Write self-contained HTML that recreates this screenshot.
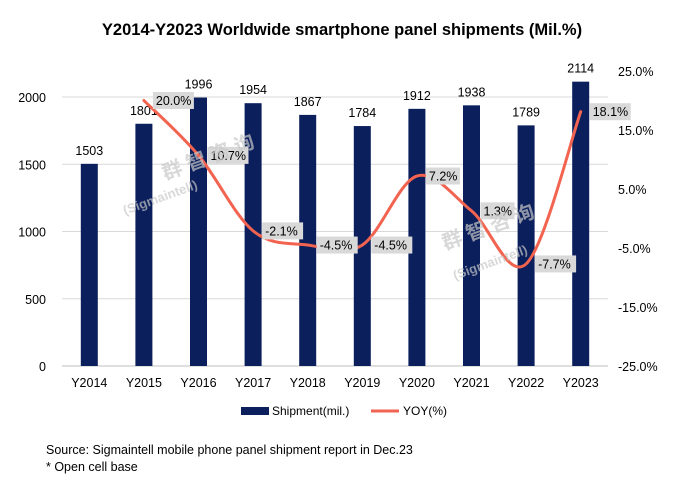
<!DOCTYPE html>
<html><head><meta charset="utf-8"><style>
body{margin:0;background:#fff;}
svg{font-family:"Liberation Sans","Noto Sans CJK SC",sans-serif;}
</style></head><body>
<svg id="c" width="685" height="484" viewBox="0 0 685 484" xmlns="http://www.w3.org/2000/svg">
<text x="342" y="35" text-anchor="middle" font-size="16.5" font-weight="bold" fill="#000">Y2014-Y2023 Worldwide smartphone panel shipments (Mil.%)</text>
<g id="grid"></g>
<g id="bars"></g>
<g id="line"></g>
<g id="wm" fill="#c8c8c8" opacity="0.7" font-weight="bold">
<text x="165" y="180" font-size="20" transform="rotate(-20 165 180)">群 智 咨 询</text>
<text x="125" y="215" font-size="13" transform="rotate(-20 125 215)">(Sigmaintell)</text>
<text x="445" y="250" font-size="20" transform="rotate(-20 445 250)">群 智 咨 询</text>
<text x="455" y="280" font-size="13" transform="rotate(-20 455 280)">(Sigmaintell)</text>
</g>
<g id="axes"></g>
<g>
<rect x="241" y="407" width="28" height="8" fill="#0a1f5c"/>
<text x="272" y="415" font-size="12" fill="#000">Shipment(mil.)</text>
<line x1="371" y1="411" x2="399" y2="411" stroke="#f26350" stroke-width="3"/>
<text x="403" y="415" font-size="12" fill="#000">YOY(%)</text>
</g>
<text x="46" y="454" font-size="12.5" fill="#000">Source: Sigmaintell mobile phone panel shipment report in Dec.23</text>
<text x="46" y="471" font-size="12.5" fill="#000">* Open cell base</text>
</svg>
<script>
const categories=["Y2014","Y2015","Y2016","Y2017","Y2018","Y2019","Y2020","Y2021","Y2022","Y2023"];
const shipments=[1503,1801,1996,1954,1867,1784,1912,1938,1789,2114];
const yoy=[null,20.0,10.7,-2.1,-4.5,-4.5,7.2,1.3,-7.7,18.1];
const leftTicks=[0,500,1000,1500,2000];
const rightTicks=[25,15,5,-5,-15,-25];
const NS="http://www.w3.org/2000/svg";
const L=62,R=608,B=366;
const bw=(R-L)/categories.length;
const xc=i=>L+bw*(i+0.5);
const yL=v=>B-v*0.1345;
const yR=v=>B-(v+25)*5.9;
function mk(t,a,p,txt){const e=document.createElementNS(NS,t);for(const k in a)e.setAttribute(k,a[k]);if(txt!==undefined)e.textContent=txt;p.appendChild(e);return e;}
const G=document.getElementById('grid'),BA=document.getElementById('bars'),LN=document.getElementById('line'),AX=document.getElementById('axes');
leftTicks.forEach(t=>{
 const g=mk('line',{x1:L,x2:R,y1:yL(t),y2:yL(t),stroke:t===0?'#bfbfbf':'#d9d9d9','stroke-width':1},G);
 
 
 const tx=mk('text',{x:46,y:yL(t)+5,'text-anchor':'end','font-size':12.5,fill:'#000'},AX,t);
 
 
});
rightTicks.forEach(t=>{
 const tx=mk('text',{x:618,y:yR(t)+5,'font-size':12.5,fill:'#000'},AX,t.toFixed(1)+'%');
 
 
});
categories.forEach((c,i)=>{
 const tx=mk('text',{x:xc(i),y:387,'text-anchor':'middle','font-size':12.5,fill:'#000'},AX,c);
 
 
 const r=mk('rect',{x:xc(i)-8.5,y:yL(shipments[i]),width:17,height:B-yL(shipments[i]),fill:'#0a1f5c'},BA);
 
 
 const v=mk('text',{x:xc(i),y:yL(shipments[i])-9,'text-anchor':'middle','font-size':12.5,fill:'#000'},BA,shipments[i]);
 
 
});
const pts=[];yoy.forEach((v,i)=>{if(v!==null)pts.push([xc(i),yR(v)]);});
let d='M'+pts[0][0]+','+pts[0][1];
for(let i=0;i<pts.length-1;i++){
 const p0=pts[Math.max(i-1,0)],p1=pts[i],p2=pts[i+1],p3=pts[Math.min(i+2,pts.length-1)];
 const c1=[p1[0]+(p2[0]-p0[0])/6,p1[1]+(p2[1]-p0[1])/6],c2=[p2[0]-(p3[0]-p1[0])/6,p2[1]-(p3[1]-p1[1])/6];
 d+=' C'+c1.join(',')+' '+c2.join(',')+' '+p2.join(',');
}
const path=mk('path',{d:d,fill:'none',stroke:'#f26350','stroke-width':3,'stroke-linecap':'round'},LN);


yoy.forEach((v,i)=>{if(v===null)return;
 const x=xc(i)+9,y=yR(v);const s=v.toFixed(1)+'%';const w=s.length*7+6;
 const r=mk('rect',{x:x,y:y-8.5,width:w,height:17,fill:'#d9d9d9'},LN);
 
 
 const t=mk('text',{x:x+3,y:y+4.5,'font-size':12.5,fill:'#000'},LN,s);
 
 
});
</script>
</body></html>
